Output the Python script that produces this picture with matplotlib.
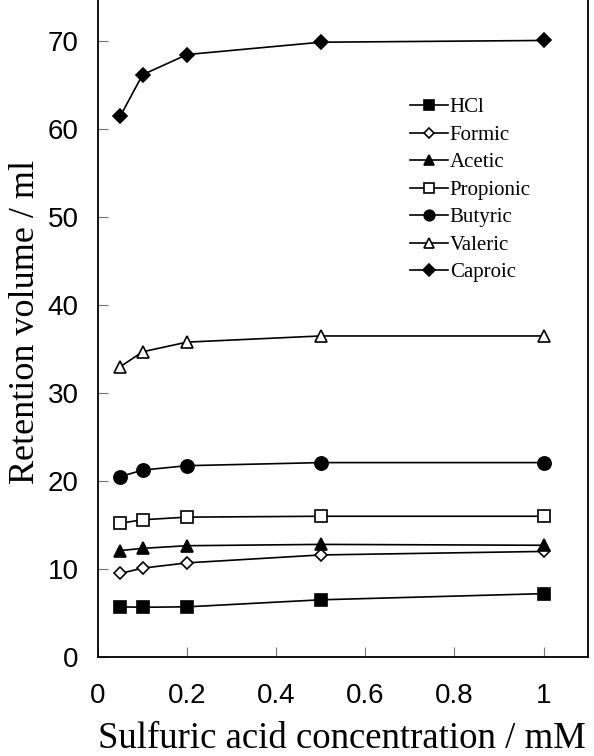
import matplotlib
matplotlib.use("Agg")
import matplotlib.pyplot as plt

# sulfuric acid concentration (mM)
conc = [0.05, 0.1, 0.2, 0.5, 1.0]

hcl = [5.7, 5.65, 5.7, 6.5, 7.2]
formic = [9.5, 10.1, 10.7, 11.6, 12.0]
acetic = [12.1, 12.35, 12.65, 12.8, 12.7]
propionic = [15.2, 15.6, 15.9, 16.0, 16.0]
butyric = [20.5, 21.25, 21.75, 22.1, 22.1]
valeric = [33.0, 34.7, 35.8, 36.5, 36.5]
caproic = [61.5, 66.2, 68.5, 69.9, 70.1]

series = [
    ("HCl", hcl, "s", "black", 9),
    ("Formic", formic, "D", "white", 6.5),
    ("Acetic", acetic, "^", "black", 9),
    ("Propionic", propionic, "s", "white", 8.5),
    ("Butyric", butyric, "o", "black", 9.5),
    ("Valeric", valeric, "^", "white", 8.5),
    ("Caproic", caproic, "D", "black", 7.5),
]

tick_font = "Liberation Sans"
label_font = "Liberation Serif"

fig = plt.figure(figsize=(5.94, 7.56), dpi=100)
ax = fig.add_axes([0.165, 0.131, 0.825, 0.869])

for name, vals, mk, fc, ms in series:
    ax.plot(conc, vals, color="black", lw=1.2, marker=mk, markersize=ms,
            markerfacecolor=fc, markeredgecolor="black", markeredgewidth=1.2,
            label=name)

ax.set_xlim(0, 1.1)
ax.set_ylim(0, 74.7)
ax.set_xticks([0, 0.2, 0.4, 0.6, 0.8, 1])
ax.set_xticklabels(["0", "0.2", "0.4", "0.6", "0.8", "1"])
ax.set_yticks(range(0, 71, 10))
ax.spines["top"].set_visible(False)
for s in ["left", "bottom", "right"]:
    ax.spines[s].set_linewidth(1.3)
ax.tick_params(direction="in", length=7, width=0.8, color="#777777",
               labelsize=20)
ax.tick_params(axis="x", pad=19)
ax.tick_params(axis="y", pad=14)
for lab in ax.get_xticklabels() + ax.get_yticklabels():
    lab.set_fontfamily(tick_font)

ax.set_xlabel("Sulfuric acid concentration / mM", fontfamily=label_font,
              fontsize=26.5, va="baseline")
ax.xaxis.set_label_coords(0.497, -0.139)
ax.set_ylabel("Retention volume / ml", fontfamily=label_font, fontsize=26)
ax.yaxis.set_label_coords(-0.115, 0.51)

ax.legend(loc="upper left", bbox_to_anchor=(0.637, 0.851), frameon=False,
          borderpad=0, borderaxespad=0, markerscale=0.8,
          handlelength=1.8, handletextpad=0.1, labelspacing=0.38,
          prop={"family": label_font, "size": 15})

fig.savefig("out.png", dpi=100)
